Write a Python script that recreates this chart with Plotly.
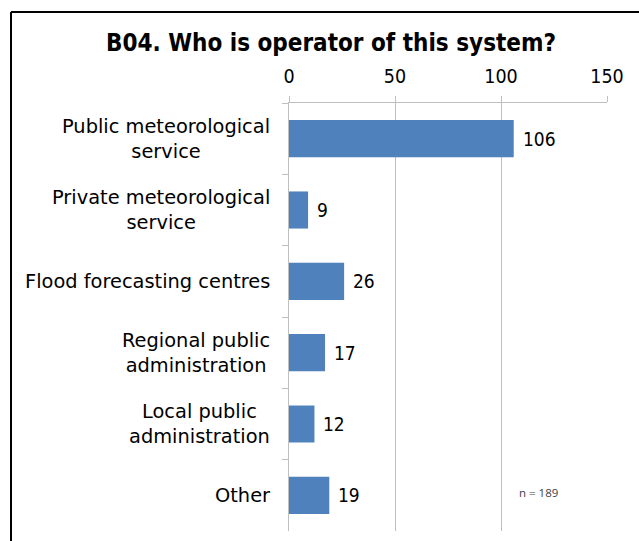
import plotly.graph_objects as go

categories = ["Public meteorological<br>service", "Private meteorological<br>service",
              "Flood forecasting centres", "Regional public<br>administration",
              "Local public<br>administration", "Other"]
values = [106, 9, 26, 17, 12, 19]
x_ticks = [0, 50, 100, 150]
title_text = "B04. Who is operator of this system?"
note_text = "n = 189"

FONT_C = "DejaVu Sans Condensed, DejaVu Sans, sans-serif"
FONT = "DejaVu Sans, sans-serif"
BAR = "#4F81BD"
GRID = "#BFBFBF"

W, H = 639, 541
L, R, T, B = 289, 32, 103, 10
pw = W - L - R
ph = H - T - B

fig = go.Figure()
fig.add_trace(go.Bar(
    x=values, y=categories, orientation="h",
    marker=dict(color=BAR, line=dict(width=0)),
    hoverinfo="skip",
))

annotations = []
for c, v in zip(categories, values):
    annotations.append(dict(x=v, y=c, xref="x", yref="y", text=str(v), showarrow=False,
                            xanchor="left", xshift=7, font=dict(family=FONT_C, size=19, color="black")))
    annotations.append(dict(x=0, y=c, xref="paper", yref="y", text=c, showarrow=False,
                            xanchor="right", align="center", xshift=-17,
                            font=dict(family=FONT, size=19.4, color="black")))
annotations.append(dict(x=117.5, y=0.089, xref="x", yref="paper", text=note_text, showarrow=False,
                        xanchor="center", yanchor="middle",
                        font=dict(family="Open Sans, sans-serif", size=11.5, color="#404040")))
annotations.append(dict(x=(331 - L) / pw, y=1 + (T - 43) / ph, xref="paper", yref="paper",
                        text="<b>" + title_text + "</b>", showarrow=False,
                        xanchor="center", yanchor="middle",
                        font=dict(family=FONT_C, size=24, color="black")))

fig.update_layout(
    width=W, height=H,
    margin=dict(l=L, r=R, t=T, b=B),
    paper_bgcolor="white", plot_bgcolor="white",
    showlegend=False,
    bargap=0.48,
    annotations=annotations,
    shapes=[
        dict(type="line", xref="paper", yref="paper", x0=(11 - L) / pw, x1=(11 - L) / pw,
             y0=1 + (T - 12) / ph, y1=-0.1, line=dict(color="black", width=2)),
        dict(type="line", xref="paper", yref="paper", x0=(11 - L) / pw, x1=1.2,
             y0=1 + (T - 12) / ph, y1=1 + (T - 12) / ph, line=dict(color="black", width=2)),
    ],
)
fig.update_xaxes(
    side="top", range=[0, 150], tickvals=x_ticks, ticktext=[str(t) for t in x_ticks],
    showgrid=True, gridcolor=GRID, gridwidth=1,
    showline=True, linecolor=GRID, linewidth=1,
    ticks="outside", ticklen=6, tickcolor=GRID,
    ticklabelstandoff=5,
    tickfont=dict(family=FONT_C, size=19.5, color="black"),
    zeroline=False, fixedrange=True,
)
fig.update_yaxes(
    autorange="reversed", showticklabels=False,
    showline=True, linecolor=GRID, linewidth=1,
    ticks="outside", tickson="boundaries", ticklen=6, tickcolor=GRID,
    showgrid=False, fixedrange=True,
)

fig.write_html("out.html", config={"displayModeBar": False},
               post_script="document.body.style.margin='0';")
